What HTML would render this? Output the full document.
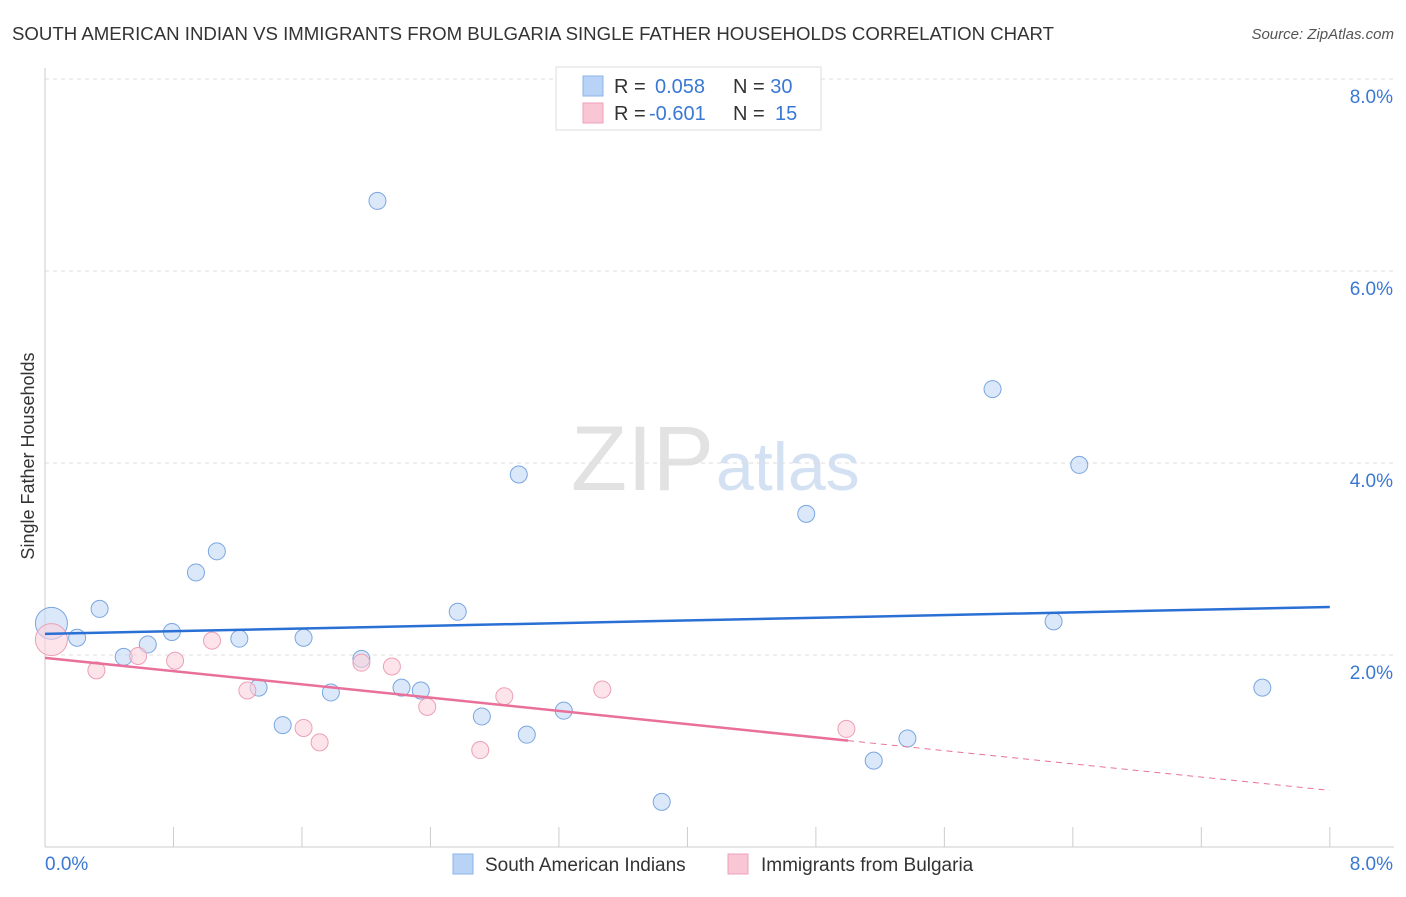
<!DOCTYPE html>
<html><head><meta charset="utf-8"><style>
body{margin:0;background:#fff;font-family:"Liberation Sans",sans-serif;}
svg text{font-family:"Liberation Sans",sans-serif;}
</style></head><body>
<svg id="chart" width="1406" height="892" xmlns="http://www.w3.org/2000/svg">
<text x="12" y="40" font-size="18" fill="#333" textLength="1042" lengthAdjust="spacingAndGlyphs">SOUTH AMERICAN INDIAN VS IMMIGRANTS FROM BULGARIA SINGLE FATHER HOUSEHOLDS CORRELATION CHART</text>
<text x="1394" y="39" font-size="15" fill="#555" text-anchor="end" font-style="italic">Source: ZipAtlas.com</text>
<text transform="translate(34,456) rotate(-90)" font-size="18" fill="#333" text-anchor="middle">Single Father Households</text>
<text x="714" y="490" font-size="92" fill="#e2e2e2" text-anchor="end" font-family="Liberation Serif">ZIP</text>
<text x="716" y="490" font-size="68" fill="#d3e1f3">atlas</text>
<g id="grid"></g><g id="marks"></g>
<g>
<rect x="556" y="67" width="265" height="63" fill="#fff" stroke="#ddd"/>
<rect x="583" y="76" width="20" height="20" fill="#b8d3f5" stroke="#8bb3e8"/>
<rect x="583" y="103" width="20" height="20" fill="#f9c6d5" stroke="#eea0b8"/>
<text x="614" y="93" font-size="20" fill="#333">R = <tspan fill="#3a78d4" x="655">0.058</tspan><tspan x="733" fill="#333">N = </tspan><tspan fill="#3a78d4">30</tspan></text>
<text x="614" y="120" font-size="20" fill="#333">R = <tspan fill="#3a78d4" x="649">-0.601</tspan><tspan x="733" fill="#333">N = </tspan><tspan fill="#3a78d4" x="775">15</tspan></text>
</g>
<g>
<rect x="453" y="854" width="20" height="20" fill="#b8d3f5" stroke="#8bb3e8"/>
<text x="485" y="871" font-size="19" fill="#333">South American Indians</text>
<rect x="728" y="854" width="20" height="20" fill="#f9c6d5" stroke="#eea0b8"/>
<text x="761" y="871" font-size="19" fill="#333">Immigrants from Bulgaria</text>
</g>
</svg>
<script>
const blueX=[0.04,0.20,0.34,0.49,0.64,0.79,0.94,1.07,1.21,1.33,1.48,1.61,1.78,1.97,2.07,2.22,2.34,2.57,2.72,2.95,3.00,3.23,3.84,4.74,5.16,5.37,5.90,6.28,6.44,7.58];
const blueY=[2.33,2.18,2.48,1.98,2.11,2.24,2.86,3.08,2.17,1.66,1.27,2.18,1.61,1.96,6.73,1.66,1.63,2.45,1.36,3.88,1.17,1.42,0.47,3.47,0.90,1.13,4.77,2.35,3.98,1.66];
const pinkX=[0.04,0.32,0.58,0.81,1.04,1.26,1.61,1.71,1.97,2.16,2.38,2.71,2.86,3.47,4.99];
const pinkY=[2.16,1.84,1.99,1.94,2.15,1.63,1.24,1.09,1.92,1.88,1.46,1.01,1.57,1.64,1.23];
const blueTrend=[2.22,2.50];
const pinkTrend=[1.97,0.59];
const pinkSolidEnd=5.0;
const yTicks=[2,4,6,8];
const xTickLabels=["0.0%","8.0%"];
const X=v=>45+v*160.6, Y=v=>847-v*96;
const NS="http://www.w3.org/2000/svg";
function mk(p,t,a){const e=document.createElementNS(NS,t);for(const k in a)e.setAttribute(k,a[k]);p.appendChild(e);return e;}
const g=document.getElementById('grid'), m=document.getElementById('marks');
yTicks.forEach(v=>{
 const l=mk(g,'line',{x1:45,x2:1394,y1:Y(v),y2:Y(v),stroke:'#ddd','stroke-dasharray':'4,4'});
 
 
 const t=mk(g,'text',{x:1393,y:Y(v)+24,'font-size':19,fill:'#3a78d4','text-anchor':'end'});t.textContent=v.toFixed(1)+'%';
 
 
});
const ax=mk(g,'line',{x1:45,x2:1394,y1:847,y2:847,stroke:'#ccc'});


const ay=mk(g,'line',{x1:45,x2:45,y1:68,y2:847,stroke:'#ccc'});


for(let i=1;i<=10;i++){const l=mk(g,'line',{x1:X(i*0.8),x2:X(i*0.8),y1:827,y2:847,stroke:'#ccc'});
 
 }
const t0=mk(g,'text',{x:45,y:870,'font-size':19,fill:'#3a78d4'});t0.textContent=xTickLabels[0];


const t1=mk(g,'text',{x:1393,y:870,'font-size':19,fill:'#3a78d4','text-anchor':'end'});t1.textContent=xTickLabels[1];


function pt(x,y,fill,stroke,r,name){const c=mk(m,'circle',{cx:X(x),cy:Y(y),r:r,fill:fill,stroke:stroke,'stroke-width':1,'fill-opacity':0.6});
 
 }
blueX.forEach((x,i)=>pt(x,blueY[i],'#c3d9f5','#7aa6e0',i===0?16:8.5,'blue-point'));
pinkX.forEach((x,i)=>pt(x,pinkY[i],'#fbd0dc','#eca0b8',i===0?16:8.5,'pink-point'));
const bl=mk(m,'line',{x1:X(0),y1:Y(blueTrend[0]),x2:X(8),y2:Y(blueTrend[1]),stroke:'#2a6fd4','stroke-width':2.5});


const py=v=>pinkTrend[0]+(pinkTrend[1]-pinkTrend[0])*v/8;
const ps=mk(m,'line',{x1:X(0),y1:Y(py(0)),x2:X(pinkSolidEnd),y2:Y(py(pinkSolidEnd)),stroke:'#e8709a','stroke-width':2.5});


const pd=mk(m,'line',{x1:X(pinkSolidEnd),y1:Y(py(pinkSolidEnd)),x2:X(8),y2:Y(py(8)),stroke:'#e8709a','stroke-width':1,'stroke-dasharray':'6,5'});


</script>
</body></html>
